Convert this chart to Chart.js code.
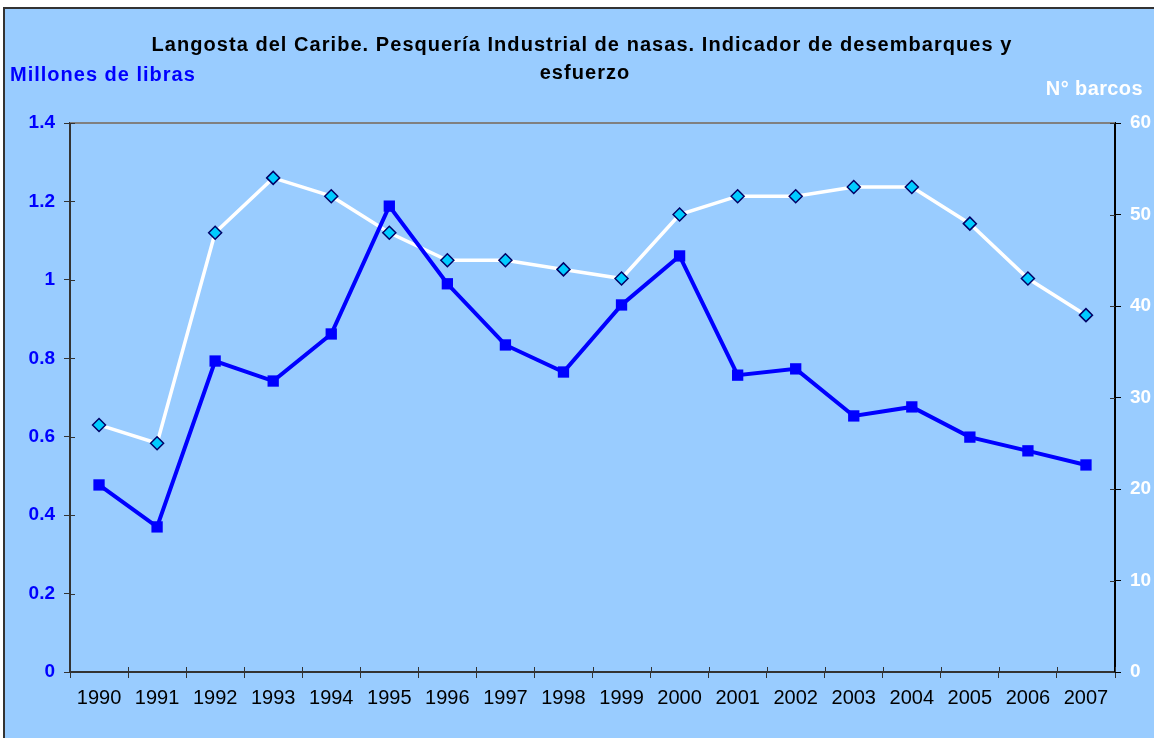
<!DOCTYPE html>
<html lang="es">
<head>
<meta charset="UTF-8">
<title>Langosta del Caribe</title>
<style>
    html, body { margin: 0; padding: 0; background: #fff; overflow: hidden; }
    #frame {
        position: absolute; left: 3px; top: 7px;
        width: 1200px; height: 800px;
        border: 2px solid #333;
        background: #99ccff;
    }
    #chart { position: absolute; left: 0; top: 0; }
</style>
</head>
<body>
<div id="frame"></div>
<canvas id="chart" width="1154" height="738"></canvas>

<script src="https://cdn.jsdelivr.net/npm/chart.js"></script>
<script>
// data
const years = ['1990','1991','1992','1993','1994','1995','1996','1997','1998',
               '1999','2000','2001','2002','2003','2004','2005','2006','2007'];
const landings = [0.477, 0.370, 0.793, 0.742, 0.862, 1.188, 0.990, 0.834, 0.765,
                  0.936, 1.061, 0.757, 0.773, 0.653, 0.676, 0.599, 0.564, 0.528];
const boats = [27, 25, 48, 54, 52, 48, 45, 45, 44, 43, 50, 52, 52, 53, 53, 49, 43, 39];

const titleLines = ['Langosta del Caribe. Pesquería Industrial de nasas. Indicador de desembarques y', 'esfuerzo'];
const leftTitle = 'Millones de libras';
const rightTitle = 'N° barcos';

const FONT = '"Liberation Sans", Arial, sans-serif';

// titles, top border line and the inner half of the tick marks
const decor = {
    id: 'decor',
    afterDraw(chart) {
        const ctx = chart.ctx;
        const a = chart.chartArea;
        ctx.save();
        // top frame line of the plot
        ctx.strokeStyle = '#808080';
        ctx.lineWidth = 2;
        ctx.beginPath();
        ctx.moveTo(a.left, a.top);
        ctx.lineTo(a.right, a.top);
        ctx.stroke();

        // ticks crossing into the plot
        ctx.strokeStyle = '#333';
        ctx.lineWidth = 1;
        const y = chart.scales.y, y2 = chart.scales.y2, x = chart.scales.x;
        ctx.beginPath();
        y.ticks.forEach((t, i) => {
            const p = Math.round(y.getPixelForTick(i)) + 0.5;
            ctx.moveTo(a.left, p); ctx.lineTo(a.left + 5, p);
        });
        y2.ticks.forEach((t, i) => {
            const p = Math.round(y2.getPixelForTick(i)) + 0.5;
            ctx.moveTo(a.right, p); ctx.lineTo(a.right - 5, p);
        });
        for (let i = 0; i <= years.length; i++) {
            const p = Math.round(x.getPixelForValue(i - 0.5)) + 0.5;
            ctx.moveTo(p, a.bottom); ctx.lineTo(p, a.bottom - 5);
        }
        ctx.stroke();

        // chart title
        ctx.font = 'bold 20px ' + FONT;
        ctx.letterSpacing = '1.05px';
        ctx.fillStyle = '#000';
        ctx.textAlign = 'center';
        ctx.textBaseline = 'middle';
        ctx.fillText(titleLines[0], 582, 45);
        ctx.fillText(titleLines[1], 585, 73);

        // axis titles
        ctx.letterSpacing = '1px';
        ctx.textAlign = 'left';
        ctx.fillStyle = '#0000ff';
        ctx.fillText(leftTitle, 10, 75);
        ctx.letterSpacing = '0.4px';
        ctx.textAlign = 'right';
        ctx.fillStyle = '#ffffff';
        ctx.fillText(rightTitle, 1143, 89);
        ctx.restore();
    }
};

new Chart(document.getElementById('chart'), {
    type: 'line',
    data: {
        labels: years,
        datasets: [
            {
                label: 'Millones de libras',
                data: landings,
                yAxisID: 'y',
                borderColor: '#0000ff',
                backgroundColor: '#0000ff',
                borderWidth: 4,
                pointStyle: 'rect',
                pointRadius: 8,
                pointBorderWidth: 0,
                tension: 0,
                order: 1
            },
            {
                label: 'N° barcos',
                data: boats,
                yAxisID: 'y2',
                borderColor: '#ffffff',
                backgroundColor: '#00ccff',
                pointBorderColor: '#000066',
                borderWidth: 3.5,
                pointStyle: 'rectRot',
                pointRadius: 6.5,
                pointBorderWidth: 1.5,
                tension: 0,
                order: 2
            }
        ]
    },
    options: {
        responsive: false,
        animation: false,
        devicePixelRatio: 1,
        layout: { padding: { top: 123, left: 0, right: 0, bottom: 0 } },
        plugins: {
            legend: { display: false },
            title: { display: false },
            tooltip: { enabled: false }
        },
        scales: {
            x: {
                type: 'category',
                offset: true,
                grid: { offset: true, drawOnChartArea: false, tickLength: 6, color: '#333' },
                border: { color: '#333', width: 2 },
                ticks: {
                    color: '#000',
                    font: { family: FONT, size: 20 },
                    padding: 8,
                    maxRotation: 0,
                    autoSkip: false
                },
                afterFit(s) { s.height = 66; }
            },
            y: {
                position: 'left',
                min: 0, max: 1.4,
                grid: { drawOnChartArea: false, tickLength: 6, color: '#333' },
                border: { color: '#333', width: 2 },
                ticks: {
                    stepSize: 0.2,
                    color: '#0000ff',
                    font: { family: FONT, size: 19, weight: 'bold' },
                    padding: 9,
                    callback: v => String(+v.toFixed(1))
                },
                afterFit(s) { s.width = 70; }
            },
            y2: {
                position: 'right',
                min: 0, max: 60,
                grid: { drawOnChartArea: false, tickLength: 6, color: '#000' },
                border: { color: '#000', width: 2 },
                ticks: {
                    stepSize: 10,
                    color: '#ffffff',
                    font: { family: FONT, size: 19, weight: 'bold' },
                    padding: 9
                },
                afterFit(s) { s.width = 39; }
            }
        }
    },
    plugins: [decor]
});
</script>
</body>
</html>
